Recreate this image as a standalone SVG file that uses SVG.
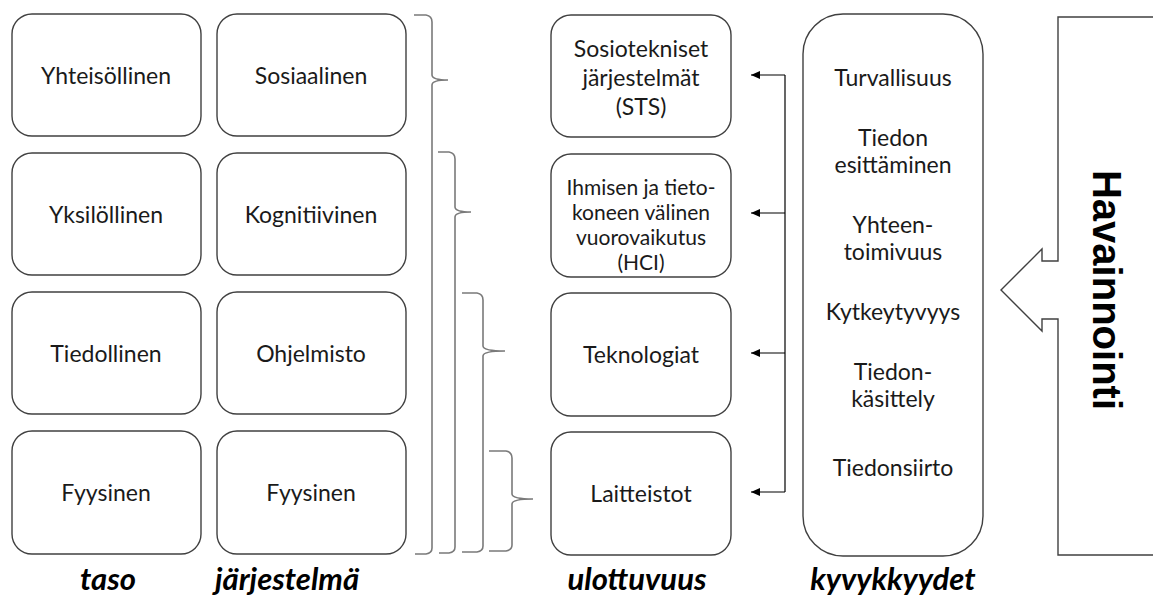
<svg xmlns="http://www.w3.org/2000/svg" width="1153" height="599" viewBox="0 0 1153 599">
  <style>
    .box { fill: #ffffff; stroke: #404040; stroke-width: 1.4; }
    .t { font-family: Lato, "Open Sans", sans-serif; font-size: 23px; fill: #1a1a1a; text-anchor: middle; dominant-baseline: central; }
    .ts { font-size: 21px; }
    .cap { font-family: Lato, "Open Sans", sans-serif; font-size: 31px; font-weight: bold; font-style: italic; fill: #000; text-anchor: middle; }
    .brace { fill: none; stroke: #7a7a7a; stroke-width: 1.6; }
    .conn { fill: none; stroke: #000; stroke-width: 1.2; }
    .big { font-family: "Liberation Sans", Arial, sans-serif; font-size: 40px; font-weight: bold; fill: #000; text-anchor: middle; dominant-baseline: central; }
  </style>
  <defs>
    <marker id="arr" markerWidth="10" markerHeight="8" refX="9" refY="4" orient="auto" markerUnits="userSpaceOnUse">
      <path d="M0,0 L9,4 L0,8 Z" fill="#000"/>
    </marker>
  </defs>

  <!-- taso -->
  <g id="taso-yhteisollinen"><rect class="box" x="12" y="14" width="189" height="122" rx="20"/><text class="t" x="106" y="75">Yhteisöllinen</text></g>
  <g id="taso-yksilollinen"><rect class="box" x="12" y="153" width="189" height="122" rx="20"/><text class="t" x="106" y="214">Yksilöllinen</text></g>
  <g id="taso-tiedollinen"><rect class="box" x="12" y="292" width="189" height="122" rx="20"/><text class="t" x="106" y="353">Tiedollinen</text></g>
  <g id="taso-fyysinen"><rect class="box" x="12" y="431" width="189" height="123" rx="20"/><text class="t" x="106" y="492">Fyysinen</text></g>

  <!-- järjestelmä -->
  <g id="jarj-sosiaalinen"><rect class="box" x="217" y="14" width="189" height="122" rx="20"/><text class="t" x="311" y="75">Sosiaalinen</text></g>
  <g id="jarj-kognitiivinen"><rect class="box" x="217" y="153" width="189" height="122" rx="20"/><text class="t" x="311" y="214">Kognitiivinen</text></g>
  <g id="jarj-ohjelmisto"><rect class="box" x="217" y="292" width="189" height="122" rx="20"/><text class="t" x="311" y="353">Ohjelmisto</text></g>
  <g id="jarj-fyysinen"><rect class="box" x="217" y="431" width="189" height="123" rx="20"/><text class="t" x="311" y="492">Fyysinen</text></g>

  <!-- ulottuvuus -->
  <g id="ul-sts"><rect class="box" x="551" y="15" width="180" height="122" rx="20"/>
    <text class="t" x="641" y="48">Sosiotekniset</text>
    <text class="t" x="641" y="77">järjestelmät</text>
    <text class="t" x="641" y="106">(STS)</text></g>
  <g id="ul-hci"><rect class="box" x="551" y="154" width="180" height="123" rx="20"/>
    <text class="t ts" x="641" y="186">Ihmisen ja tieto-</text>
    <text class="t ts" x="641" y="211">koneen välinen</text>
    <text class="t ts" x="641" y="236">vuorovaikutus</text>
    <text class="t ts" x="641" y="261">(HCI)</text></g>
  <g id="ul-teknologiat"><rect class="box" x="551" y="293" width="180" height="123" rx="20"/><text class="t" x="641" y="354">Teknologiat</text></g>
  <g id="ul-laitteistot"><rect class="box" x="551" y="432" width="180" height="123" rx="20"/><text class="t" x="641" y="493">Laitteistot</text></g>

  <!-- kyvykkyydet -->
  <g id="kyvykkyydet"><rect class="box" x="803" y="14" width="180" height="542" rx="40"/>
    <text class="t" x="893" y="77">Turvallisuus</text>
    <text class="t" x="893" y="137">Tiedon</text>
    <text class="t" x="893" y="164">esittäminen</text>
    <text class="t" x="893" y="224">Yhteen-</text>
    <text class="t" x="893" y="251">toimivuus</text>
    <text class="t" x="893" y="311">Kytkeytyvyys</text>
    <text class="t" x="893" y="371">Tiedon-</text>
    <text class="t" x="893" y="398">käsittely</text>
    <text class="t" x="893" y="467">Tiedonsiirto</text></g>

  <!-- havainnointi -->
  <g id="havainnointi">
    <path class="box" d="M1154,17 L1058,17 L1058,261 L1042,261 L1042,249 L1001,290 L1042,331 L1042,319 L1058,319 L1058,555 L1154,555" stroke-width="1.5"/>
    <text class="big" transform="translate(1107,290) rotate(90)">Havainnointi</text>
  </g>

  <!-- braces -->
  <g id="braces">
    <path class="brace" d="M414,15 L426,15 Q432,16 432,22 L432,75 Q432,80 448,80 Q432,80 432,85 L432,548 Q432,553 426,554 L415,554"/>
    <path class="brace" d="M438,152 L449,152 Q455,153 455,159 L455,207 Q455,212 471,212 Q455,212 455,217 L455,547 Q455,552 449,553 L439,553"/>
    <path class="brace" d="M462,293 L477,293 Q483,294 483,300 L483,346 Q483,351 505,351 Q483,351 483,356 L483,546 Q483,551 477,552 L462,552"/>
    <path class="brace" d="M489,451 L506,451 Q512,452 512,458 L512,494 Q512,499 533,499 Q512,499 512,504 L512,545 Q512,550 506,551 L489,551"/>
  </g>

  <!-- connectors -->
  <g id="connectors">
    <path class="conn" d="M785,75 L785,492"/>
    <path class="conn" d="M785,75 L751,75" marker-end="url(#arr)"/>
    <path class="conn" d="M785,213 L751,213" marker-end="url(#arr)"/>
    <path class="conn" d="M785,353 L751,353" marker-end="url(#arr)"/>
    <path class="conn" d="M785,492 L751,492" marker-end="url(#arr)"/>
  </g>

  <!-- column captions -->
  <g id="captions">
    <text class="cap" x="108" y="590">taso</text>
    <text class="cap" x="287" y="590">järjestelmä</text>
    <text class="cap" x="637" y="590">ulottuvuus</text>
    <text class="cap" x="893" y="590">kyvykkyydet</text>
  </g>
</svg>
